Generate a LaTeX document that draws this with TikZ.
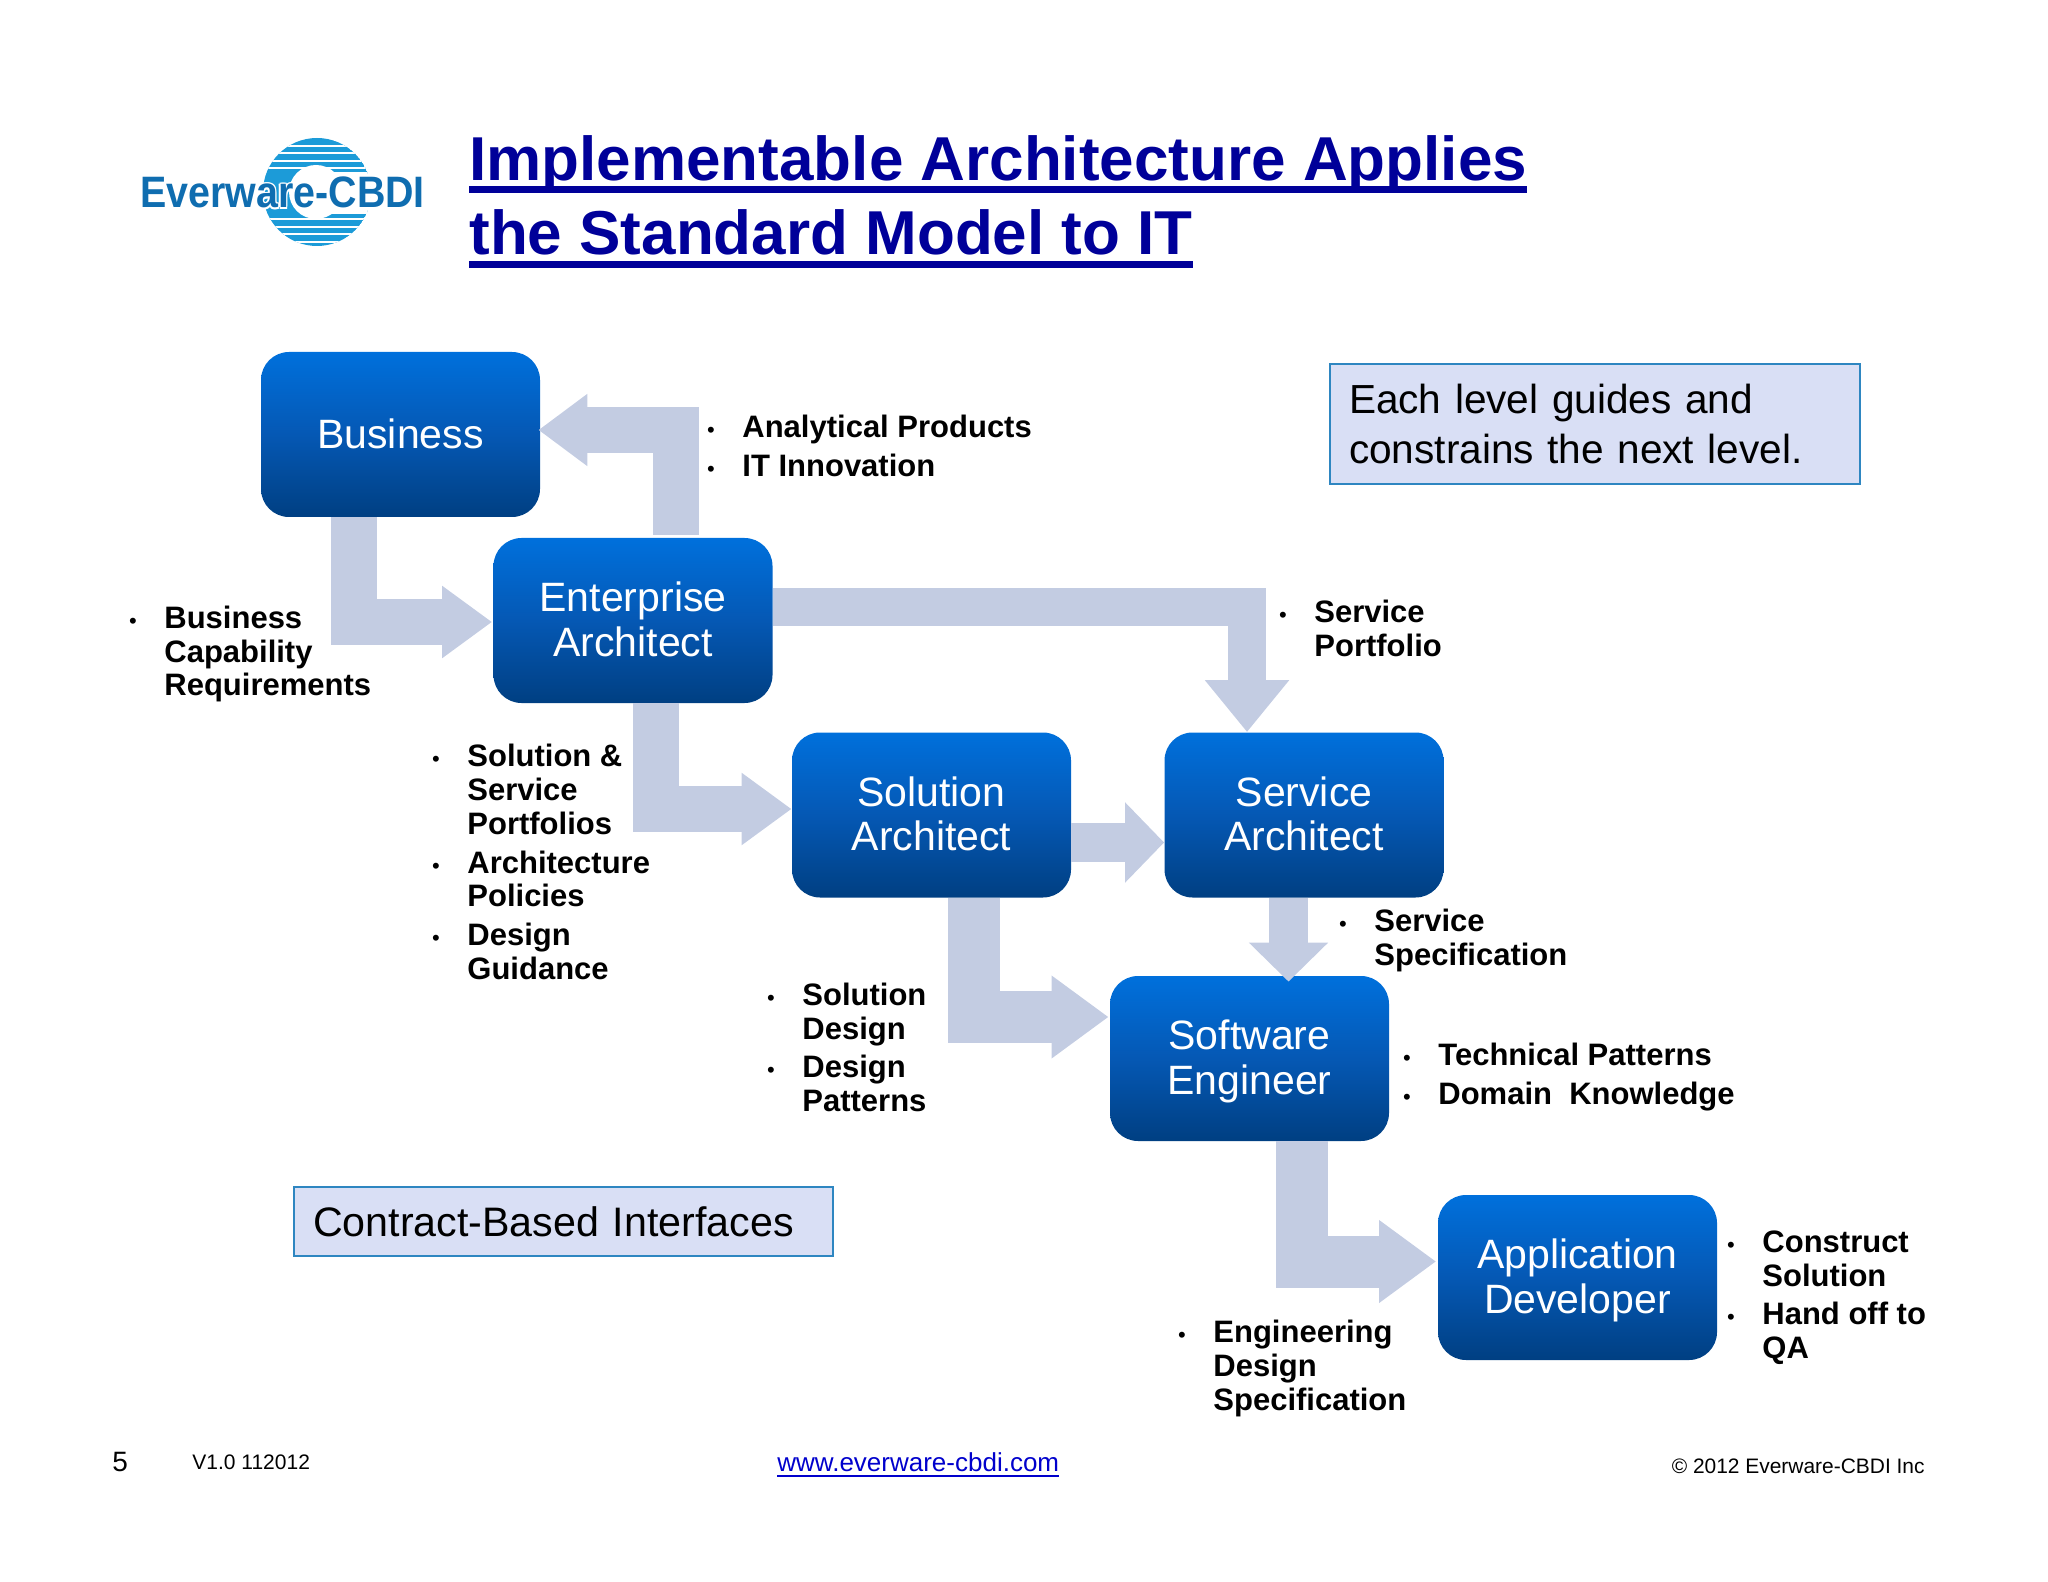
\documentclass[tikz,border=0pt]{standalone}
\usepackage{fontspec}
\setmainfont{Liberation Sans}
\usetikzlibrary{arrows.meta}

\definecolor{boxtop}{HTML}{0070DC}
\definecolor{boxmid}{HTML}{0558B4}
\definecolor{boxbot}{HTML}{003F82}
\definecolor{flowfill}{HTML}{C3CCE2}
\definecolor{calloutfill}{HTML}{D9DFF5}
\definecolor{calloutline}{HTML}{2E86C1}
\definecolor{titleblue}{HTML}{000099}
\definecolor{linkblue}{HTML}{0000CC}
\definecolor{logoring}{HTML}{1C9BD8}
\definecolor{logotext}{HTML}{0F6DB0}

\newsavebox{\ruledbox}
\newcommand{\ruled}[3]{\sbox{\ruledbox}{#3}\rlap{\rule[-#1]{\wd\ruledbox}{#2}}\usebox{\ruledbox}}
\newcommand{\notedot}{\leavevmode\rule{0pt}{12pt}\llap{\fontsize{11}{11}\selectfont\mdseries\textbullet\hspace{13.8pt}}}
\newcommand{\nodrop}[1]{\leavevmode\smash{#1}\rule[-1.3pt]{0pt}{1.3pt}}

\tikzset{
	rolebox/.style={minimum width=139.5pt, minimum height=82.5pt, inner sep=0pt, rounded corners=14pt,
		top color=boxtop, bottom color=boxbot, middle color=boxmid, text=white, align=center,
		font=\fontsize{20.5}{22.3}\selectfont},
	flow/.style n args={3}{draw=flowfill, line width=#1, -{Triangle[width=#2,length=#3]}},
	note/.style={anchor=north west, inner sep=0pt, align=left, font=\bfseries\fontsize{15.5}{16.85}\selectfont},
	callout/.style={draw=calloutline, line width=1pt, fill=calloutfill, inner ysep=0pt, inner xsep=9.5pt,
		align=left, font=\fontsize{20.3}{25}\selectfont},
	foot/.style={inner sep=0pt},
	logoword/.style={inner sep=0pt, font=\bfseries\fontsize{22}{22}\selectfont}
}

\begin{document}
\begin{tikzpicture}[x=0.5pt,y=-0.5pt]
	\useasboundingbox (0,0) rectangle (2048,1582);

	% logo
	\begin{scope}
		\clip (317,192) circle(54);
		\fill[logoring] (317,192) circle(54);
		\foreach \y in {146,153,161,168,219,227,234,242}
			\fill[white] (260,\y-.8) rectangle (375,\y+.8);
		\fill[white] (316,192) circle(27);
		\fill[white] (316,172) rectangle (375,214);
	\end{scope}
	\foreach \a in {0,45,...,315}
		\node[logoword, white, anchor=base west] (halo\a) at ([shift={(\a:1.5)}]140,208) {\scalebox{.895}[1]{Everware-CBDI}};
	\node[logoword, text=logotext, anchor=base west] (logo) at (140,208) {\scalebox{.895}[1]{Everware-CBDI}};

	% title
	\node[anchor=north west, inner sep=0pt, align=left, text=titleblue, font=\bfseries\fontsize{31}{37.25}\selectfont] (title) at (469,132)
		{\rule{0pt}{24pt}\ruled{6.5pt}{3.5pt}{Implementable Architecture Applies}\\\ruled{6.5pt}{3.5pt}{the Standard Model to IT}};

	% roles
	\node[rolebox] (biz) at (400.5,434.5) {Business\rule[-1.3pt]{0pt}{1.3pt}};
	\node[rolebox] (ent) at (633,620.5) {Enterprise\\\nodrop{Architect}};
	\node[rolebox] (sol) at (931.5,815) {Solution\\\nodrop{Architect}};
	\node[rolebox] (svc) at (1304,815) {Service\\\nodrop{Architect}};
	\node[rolebox] (soft) at (1249.5,1058.5) {Software\\\nodrop{Engineer}};
	\node[rolebox] (app) at (1577.5,1277.5) {Application\\\nodrop{Developer}};

	% block arrows
	\draw[flow={23pt}{34.5pt}{25pt}] ([xshift=-23.25pt]biz.south) |- ([xshift=-.5pt,yshift=-.75pt]ent.west);
	\draw[flow={23pt}{34.5pt}{24.5pt}] ([xshift=21.5pt,yshift=1.5pt]ent.north) |- ([xshift=-1pt,yshift=2.25pt]biz.east);
	\draw[flow={19pt}{40.5pt}{26pt}] ([yshift=6.75pt]ent.east) -| ([xshift=-28.5pt]svc.north);
	\draw[flow={23pt}{34.5pt}{25pt}] ([xshift=11.25pt]ent.south) |- ([yshift=3pt]sol.west);
	\draw[flow={19.5pt}{39pt}{19.5pt}] ([yshift=-13.75pt]sol.east) -- ([yshift=-13.75pt]svc.west);
	\draw[flow={19.5pt}{38.5pt}{19.5pt}] ([xshift=-7.75pt]svc.south) -- ([xshift=19.5pt,yshift=-3pt]soft.north);
	\draw[flow={26pt}{39.5pt}{28.5pt}] ([xshift=21.25pt]sol.south) |- ([xshift=-.5pt,yshift=20.75pt]soft.west);
	\draw[flow={26pt}{39.5pt}{28.5pt}] ([xshift=26pt]soft.south) |- ([xshift=-.75pt,yshift=8pt]app.west);

	% notes
	\node[note] (products) at (742,413) {\notedot Analytical Products\\[2.5pt]\notedot IT Innovation};
	\node[note] (needs) at (164,604) {\notedot Business\\Capability\\Requirements};
	\node[note] (portfolio) at (1314,598.5) {\notedot Service\\Portfolio};
	\node[note] (policies) at (467,742.5) {\notedot Solution \&\\Service\\Portfolios\\[2.5pt]\notedot Architecture\\Policies\\[2.5pt]\notedot Design\\Guidance};
	\node[note] (design) at (802,981) {\notedot Solution\\Design\\[2.5pt]\notedot Design\\Patterns};
	\node[note] (spec) at (1374,907.5) {\notedot Service\\Specification};
	\node[note] (patterns) at (1438,1041) {\notedot Technical Patterns\\[2.5pt]\notedot Domain\ \ Knowledge};
	\node[note] (construct) at (1762,1228) {\notedot Construct\\Solution\\[2.5pt]\notedot Hand off to\\QA};
	\node[note] (engspec) at (1213,1318.5) {\notedot Engineering\\Design\\Specification};

	% callouts
	\node[callout, text width=246pt, minimum height=60pt] (guides) at (1595,424) {Each level guides and\\constrains the next level.};
	\node[callout, text width=250.5pt, minimum height=34.5pt, font=\fontsize{20.6}{25}\selectfont] (contract) at (563.5,1221.5) {Contract-Based Interfaces};

	% footer
	\node[foot, anchor=base west, font=\fontsize{14}{14}\selectfont] (page) at (112,1471) {5};
	\node[foot, anchor=base west, font=\fontsize{10.5}{12}\selectfont] (version) at (192,1469) {V1.0 112012};
	\node[foot, anchor=base west, text=linkblue, font=\fontsize{13}{15}\selectfont] (site) at (777,1471)
		{\ruled{3pt}{1pt}{www.everware-cbdi.com}};
	\node[foot, anchor=base east, font=\fontsize{10.47}{12}\selectfont] (copy) at (1925,1473) {© 2012 Everware-CBDI Inc};
\end{tikzpicture}
\end{document}
